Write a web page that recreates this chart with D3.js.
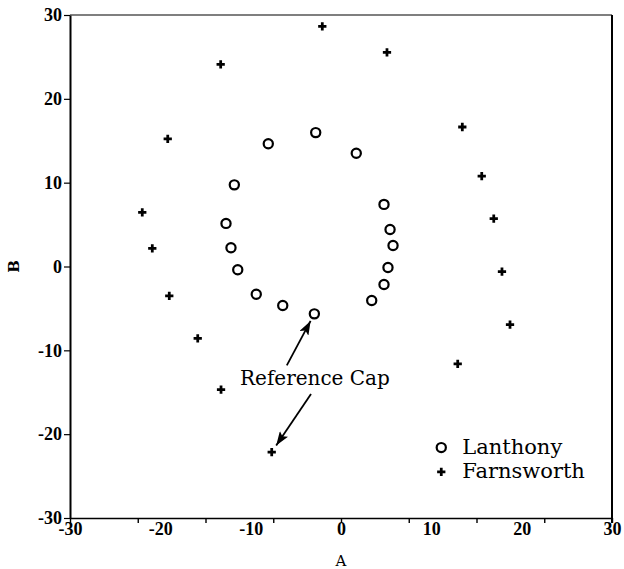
<!DOCTYPE html>
<html>
<head>
<meta charset="utf-8">
<script src="https://cdn.jsdelivr.net/npm/d3@7"></script>
<style>
  html, body { margin: 0; padding: 0; background: #fff; }
  .tick text { font-family: "Liberation Serif", serif; font-weight: bold; font-size: 18px; fill: #000; }
  .lbl { font-family: "DejaVu Serif", serif; fill: #000; }
</style>
</head>
<body>
<div id="root"></div>
<script>
// caps, in (A, B) units
const lanthonyA = [-8.05, -2.8, 1.69, -11.81, -12.73, -12.18, -11.43, -9.38, -6.45, -2.95, 4.76, 5.43, 5.76, 5.2, 4.76, 3.4];
const lanthonyB = [14.64, 15.97, 13.5, 9.74, 5.14, 2.23, -0.39, -3.31, -4.66, -5.65, 7.41, 4.42, 2.51, -0.12, -2.15, -4.06];
const farnsA = [-2.07, 5.09, -13.32, -19.18, 13.43, 15.58, 16.91, 17.82, 18.71, 12.92, -22.0, -20.89, -19.01, -15.86, -13.28, -7.67];
const farnsB = [28.64, 25.53, 24.1, 15.21, 16.64, 10.79, 5.7, -0.6, -6.93, -11.62, 6.45, 2.15, -3.5, -8.57, -14.7, -22.14];

const xTickLabels = [-30, -20, -10, 0, 10, 20, 30];
const xTickMarks = [-30, -22.5, -15, -7.5, 0, 7.5, 15, 22.5, 30];
const yTickLabels = [-30, -20, -10, 0, 10, 20, 30];

const seriesNames = ['Lanthony', 'Farnsworth'];
// reference cap = index 9 circle, index 15 plus
const refLanthony = 9, refFarns = 15;
const refText = 'Reference Cap';

const W = 624, H = 569;
const mLeft = 70, mRight = 612, mTop = 15, mBottom = 518;

const x = d3.scaleLinear().domain([-30, 30]).range([mLeft, mRight]);
const y = d3.scaleLinear().domain([-30, 30]).range([mBottom, mTop]);
const fmt = d => String(d); // plain hyphen, like the original

const svg = d3.select('#root').append('svg')
  .attr('width', W).attr('height', H)
  .style('display', 'block');

// frame
svg.append('line').attr('x1', mLeft).attr('x2', mRight).attr('y1', mTop).attr('y2', mTop)
  .attr('stroke', '#000').attr('stroke-width', 1.2);
svg.append('line').attr('x1', mRight).attr('x2', mRight).attr('y1', mTop).attr('y2', mBottom + 5)
  .attr('stroke', '#000').attr('stroke-width', 2);

// y axis
const yAxis = svg.append('g').attr('transform', `translate(${mLeft},0)`)
  .call(d3.axisLeft(y).tickValues(yTickLabels).tickFormat(fmt).tickSize(6).tickPadding(2).tickSizeOuter(0));
yAxis.select('.domain').attr('stroke-width', 2);
yAxis.selectAll('.tick line').attr('stroke-width', 1.2);

// x axis: marks every 7.5, labels every 10
const xMarks = svg.append('g').attr('transform', `translate(0,${mBottom})`)
  .call(d3.axisBottom(x).tickValues(xTickMarks).tickSize(5).tickFormat('').tickSizeOuter(0));
xMarks.select('.domain').attr('stroke-width', 1.4);
xMarks.selectAll('.tick line').attr('stroke-width', 1.4);

const xLabels = svg.append('g').attr('transform', `translate(0,${mBottom})`)
  .call(d3.axisBottom(x).tickValues(xTickLabels).tickFormat(fmt).tickSize(0).tickPadding(4));
xLabels.select('.domain').remove();

// axis titles
svg.append('text').attr('class', 'lbl')
  .attr('x', x(0)).attr('y', 566)
  .attr('text-anchor', 'middle').style('font-size', '15px')
  .text('A');
svg.append('text').attr('class', 'lbl')
  .attr('transform', `translate(19,${y(0)}) rotate(-90)`)
  .attr('text-anchor', 'middle').style('font-size', '15px').style('font-weight', 'bold')
  .text('B');

const lanthony = lanthonyA.map((a, i) => ({ a, b: lanthonyB[i] }));
const farns = farnsA.map((a, i) => ({ a, b: farnsB[i] }));

// markers
svg.append('g').selectAll('circle').data(lanthony).join('circle')
  .attr('cx', d => x(d.a)).attr('cy', d => y(d.b))
  .attr('r', 4.6)
  .attr('fill', 'none').attr('stroke', '#000').attr('stroke-width', 2.2);

const cross = d3.symbol().type(d3.symbolCross).size(38);
svg.append('g').selectAll('path').data(farns).join('path')
  .attr('transform', d => `translate(${x(d.a)},${y(d.b)})`)
  .attr('d', cross).attr('fill', '#000');

// annotation
svg.append('defs').append('marker')
  .attr('id', 'head').attr('markerUnits', 'userSpaceOnUse')
  .attr('viewBox', '0 0 14 10').attr('refX', 14).attr('refY', 5)
  .attr('markerWidth', 15).attr('markerHeight', 10).attr('orient', 'auto')
  .append('path').attr('d', 'M0,0 L14,5 L0,10 L3,5 Z').attr('fill', '#000');

const txtA = -11.18, txtB = -14.1;
svg.append('text').attr('class', 'lbl')
  .attr('x', x(txtA)).attr('y', y(txtB))
  .style('font-size', '20px')
  .text(refText);

function arrow(fromA, fromB, pt, gap) {
  const x0 = x(fromA), y0 = y(fromB);
  const x1 = x(pt.a), y1 = y(pt.b);
  const len = Math.hypot(x1 - x0, y1 - y0);
  const t = (len - gap) / len;
  svg.append('line')
    .attr('x1', x0).attr('y1', y0)
    .attr('x2', x0 + (x1 - x0) * t).attr('y2', y0 + (y1 - y0) * t)
    .attr('stroke', '#000').attr('stroke-width', 1.8)
    .attr('marker-end', 'url(#head)');
}
arrow(-6.0, -11.8, lanthony[refLanthony], 8);
arrow(-3.32, -15.2, farns[refFarns], 8);

// legend
const legA = 11.1, legB = [-21.6, -24.5];
svg.append('circle').attr('cx', x(legA)).attr('cy', y(legB[0]))
  .attr('r', 4.6).attr('fill', 'none').attr('stroke', '#000').attr('stroke-width', 2.2);
svg.append('path').attr('transform', `translate(${x(legA)},${y(legB[1])})`)
  .attr('d', cross).attr('fill', '#000');
seriesNames.forEach((name, i) => {
  svg.append('text').attr('class', 'lbl')
    .attr('x', x(legA) + 21).attr('y', y(legB[i]) + 6)
    .style('font-size', '21px')
    .text(name);
});
</script>
</body>
</html>
